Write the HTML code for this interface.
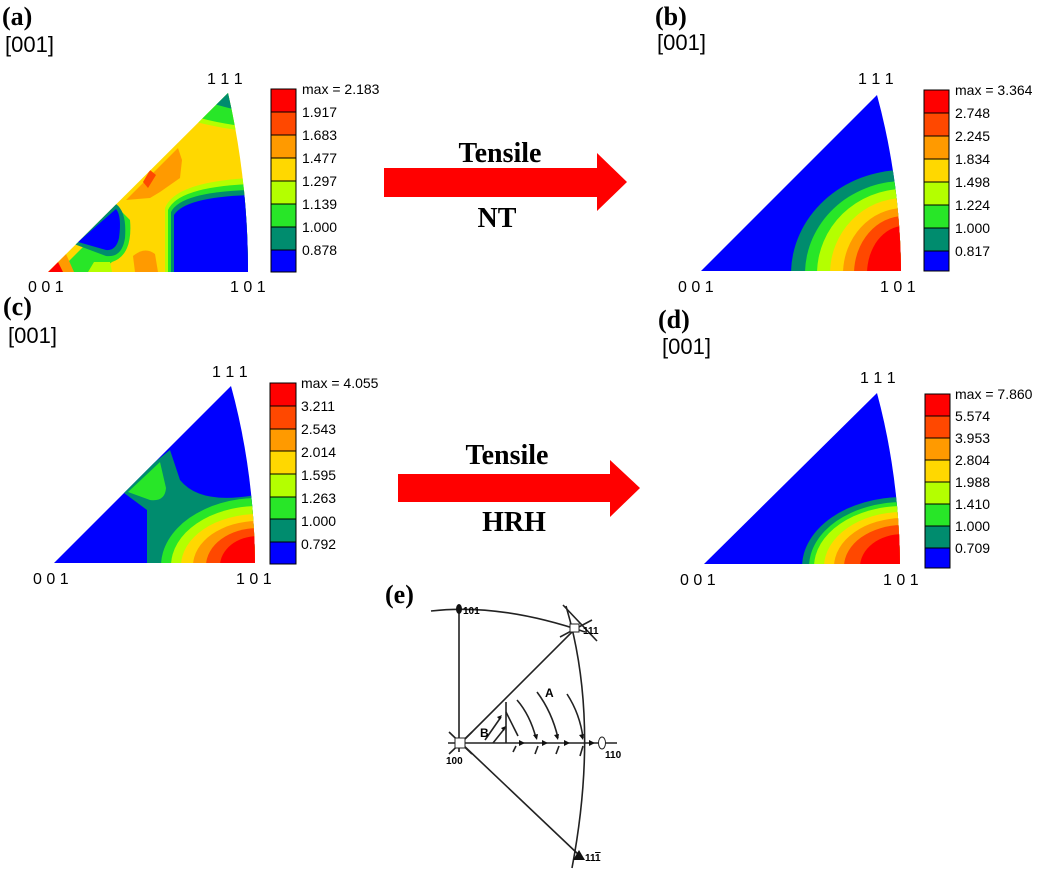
<!DOCTYPE html>
<html><head><meta charset="utf-8"><style>
body{margin:0;background:#fff;width:1042px;height:870px;overflow:hidden}
svg{display:block}
.lbl{font-family:"Liberation Serif",serif;font-weight:bold;font-size:26px}
.dir{font-family:"Liberation Sans",sans-serif;font-size:22px}
.ax{font-family:"Liberation Sans",sans-serif;font-size:16px}
.cb{font-family:"Liberation Sans",sans-serif;font-size:14px}
.big{font-family:"Liberation Serif",serif;font-weight:bold;font-size:28px}
.e{font-family:"Liberation Sans",sans-serif;font-weight:bold;font-size:10px}
</style></head><body>
<svg width="1042" height="870" viewBox="0 0 1042 870" xmlns="http://www.w3.org/2000/svg">
<defs>
<clipPath id="ca"><path d="M48,272 L228,93 Q248,180 248,272 Z"/></clipPath>
<clipPath id="cbp"><path d="M701,271 L877,95 Q900,180 901,271 Z"/></clipPath>
<clipPath id="cc"><path d="M54,563 L231,386 Q254,470 255,563 Z"/></clipPath>
<clipPath id="cd"><path d="M704,564 L877,393 Q899,475 900,564 Z"/></clipPath>
</defs>

<text class="lbl" x="2" y="25">(a)</text><text class="dir" x="5" y="52">[001]</text>
<text class="lbl" x="655" y="25">(b)</text><text class="dir" x="657" y="50">[001]</text>
<text class="lbl" x="3" y="315">(c)</text><text class="dir" x="8" y="343">[001]</text>
<text class="lbl" x="658" y="328">(d)</text><text class="dir" x="662" y="354">[001]</text>
<text class="lbl" x="385" y="603">(e)</text>

<!-- Panel a -->
<g clip-path="url(#ca)">
<rect x="40" y="85" width="220" height="200" fill="#ffd800"/>
<path d="M196,122 Q220,128 250,132 L250,85 L210,85 Z" fill="#b4ff00"/>
<path d="M200,118 Q222,124 250,127 L250,85 L212,85 Z" fill="#28e628"/>
<path d="M214,104 Q228,108 245,112 L240,85 L225,85 Z" fill="#008c6e"/>
<path d="M126,200 L178,148 L182,160 L180,178 L160,192 L150,198 Z" fill="#ff9a00"/>
<path d="M143,182 L150,170 L156,175 L148,188 Z" fill="#ff4800"/>
<path d="M135,272 L133,256 Q145,246 155,254 L158,272Z" fill="#ff9a00"/>
<path d="M165,272 L165,208 Q175,182 250,178 L250,272Z" fill="#b4ff00"/>
<path d="M168,272 L168,210 Q178,187 250,184 L250,272Z" fill="#28e628"/>
<path d="M171,272 L171,212 Q181,192 250,190 L250,272Z" fill="#008c6e"/>
<path d="M174,272 L174,215 Q185,197 250,195 L250,272Z" fill="#0000ff"/>
<path d="M58,272 L120,210 L130,220 Q133,255 112,262 L100,272Z" fill="#28e628"/>
<path d="M74,244 L116,204 Q127,212 125,238 Q122,258 106,256Z" fill="#008c6e"/>
<path d="M78,242 L116,209 Q122,216 119,238 Q116,251 106,250Z" fill="#0000ff"/>
<path d="M48,272 L66,254 L74,272Z" fill="#ff9a00"/>
<path d="M48,272 L58,262 L63,272Z" fill="#ff0000"/>
<path d="M88,272 L94,262 L110,262 L112,272Z" fill="#b4ff00"/>
</g>

<!-- Panel b -->
<g clip-path="url(#cbp)">
<rect x="690" y="85" width="220" height="200" fill="#0000ff"/>
<ellipse cx="904" cy="274" rx="113" ry="104" fill="#008c6e"/>
<ellipse cx="904" cy="274" rx="99" ry="93" fill="#28e628"/>
<ellipse cx="904" cy="274" rx="87" ry="85" fill="#b4ff00"/>
<ellipse cx="904" cy="274" rx="74" ry="76" fill="#ffd800"/>
<ellipse cx="904" cy="274" rx="61" ry="66" fill="#ff9a00"/>
<ellipse cx="904" cy="274" rx="50" ry="58" fill="#ff4800"/>
<ellipse cx="904" cy="274" rx="37" ry="48" fill="#ff0000"/>
</g>

<!-- Panel c -->
<g clip-path="url(#cc)">
<rect x="45" y="380" width="220" height="190" fill="#0000ff"/>
<path d="M120,490 L170,450 L180,480 Q200,505 255,495 L260,570 L147,570 L147,510Z" fill="#008c6e"/>
<path d="M128,492 L160,462 L166,488 Q165,502 150,500Z" fill="#28e628"/>
<ellipse cx="258" cy="566" rx="97" ry="68" fill="#28e628"/>
<ellipse cx="258" cy="566" rx="87" ry="60" fill="#b4ff00"/>
<ellipse cx="258" cy="566" rx="77" ry="52" fill="#ffd800"/>
<ellipse cx="258" cy="566" rx="65" ry="45" fill="#ff9a00"/>
<ellipse cx="258" cy="566" rx="52" ry="38" fill="#ff4800"/>
<ellipse cx="258" cy="566" rx="38" ry="30" fill="#ff0000"/>
</g>

<!-- Panel d -->
<g clip-path="url(#cd)">
<rect x="690" y="385" width="220" height="190" fill="#0000ff"/>
<ellipse cx="903" cy="567" rx="101" ry="70" fill="#008c6e"/>
<ellipse cx="903" cy="567" rx="94" ry="65" fill="#28e628"/>
<ellipse cx="903" cy="567" rx="89" ry="61" fill="#b4ff00"/>
<ellipse cx="903" cy="567" rx="79" ry="55" fill="#ffd800"/>
<ellipse cx="903" cy="567" rx="69" ry="49" fill="#ff9a00"/>
<ellipse cx="903" cy="567" rx="59" ry="42" fill="#ff4800"/>
<ellipse cx="903" cy="567" rx="43" ry="33" fill="#ff0000"/>
</g>

<text class="ax" x="207" y="84">1 1 1</text><text class="ax" x="28" y="292">0 0 1</text><text class="ax" x="230" y="292">1 0 1</text>
<text class="ax" x="858" y="84">1 1 1</text><text class="ax" x="678" y="292">0 0 1</text><text class="ax" x="880" y="292">1 0 1</text>
<text class="ax" x="212" y="377">1 1 1</text><text class="ax" x="33" y="584">0 0 1</text><text class="ax" x="236" y="584">1 0 1</text>
<text class="ax" x="860" y="383">1 1 1</text><text class="ax" x="680" y="585">0 0 1</text><text class="ax" x="883" y="585">1 0 1</text>

<g stroke="#000" stroke-width="1">
<g transform="translate(271,89)">
<rect width="25" height="23" fill="#ff0000"/><rect y="23" width="25" height="23" fill="#ff4800"/><rect y="46" width="25" height="23" fill="#ff9a00"/><rect y="69" width="25" height="23" fill="#ffd800"/><rect y="92" width="25" height="23" fill="#b4ff00"/><rect y="115" width="25" height="23" fill="#28e628"/><rect y="138" width="25" height="23" fill="#008c6e"/><rect y="161" width="25" height="22" fill="#0000ff"/>
</g>
<g transform="translate(924,90)">
<rect width="25" height="23" fill="#ff0000"/><rect y="23" width="25" height="23" fill="#ff4800"/><rect y="46" width="25" height="23" fill="#ff9a00"/><rect y="69" width="25" height="23" fill="#ffd800"/><rect y="92" width="25" height="23" fill="#b4ff00"/><rect y="115" width="25" height="23" fill="#28e628"/><rect y="138" width="25" height="23" fill="#008c6e"/><rect y="161" width="25" height="20" fill="#0000ff"/>
</g>
<g transform="translate(270,383)">
<rect width="26" height="23" fill="#ff0000"/><rect y="23" width="26" height="23" fill="#ff4800"/><rect y="46" width="26" height="22" fill="#ff9a00"/><rect y="68" width="26" height="23" fill="#ffd800"/><rect y="91" width="26" height="23" fill="#b4ff00"/><rect y="114" width="26" height="22" fill="#28e628"/><rect y="136" width="26" height="23" fill="#008c6e"/><rect y="159" width="26" height="22" fill="#0000ff"/>
</g>
<g transform="translate(925,394)">
<rect width="25" height="22" fill="#ff0000"/><rect y="22" width="25" height="22" fill="#ff4800"/><rect y="44" width="25" height="22" fill="#ff9a00"/><rect y="66" width="25" height="22" fill="#ffd800"/><rect y="88" width="25" height="22" fill="#b4ff00"/><rect y="110" width="25" height="22" fill="#28e628"/><rect y="132" width="25" height="22" fill="#008c6e"/><rect y="154" width="25" height="20" fill="#0000ff"/>
</g>
</g>
<g class="cb">
<text x="302" y="94">max = 2.183</text><text x="302" y="117">1.917</text><text x="302" y="140">1.683</text><text x="302" y="163">1.477</text><text x="302" y="186">1.297</text><text x="302" y="209">1.139</text><text x="302" y="232">1.000</text><text x="302" y="255">0.878</text>
<text x="955" y="95">max = 3.364</text><text x="955" y="118">2.748</text><text x="955" y="141">2.245</text><text x="955" y="164">1.834</text><text x="955" y="187">1.498</text><text x="955" y="210">1.224</text><text x="955" y="233">1.000</text><text x="955" y="256">0.817</text>
<text x="301" y="388">max = 4.055</text><text x="301" y="411">3.211</text><text x="301" y="434">2.543</text><text x="301" y="457">2.014</text><text x="301" y="480">1.595</text><text x="301" y="503">1.263</text><text x="301" y="526">1.000</text><text x="301" y="549">0.792</text>
<text x="955" y="399">max = 7.860</text><text x="955" y="421">5.574</text><text x="955" y="443">3.953</text><text x="955" y="465">2.804</text><text x="955" y="487">1.988</text><text x="955" y="509">1.410</text><text x="955" y="531">1.000</text><text x="955" y="553">0.709</text>
</g>

<path d="M384,168 L597,168 L597,153 L627,182 L597,211 L597,197 L384,197 Z" fill="#ff0000"/>
<text class="big" x="500" y="162" text-anchor="middle">Tensile</text>
<text class="big" x="497" y="227" text-anchor="middle">NT</text>
<path d="M398,474 L610,474 L610,460 L640,488 L610,517 L610,502 L398,502 Z" fill="#ff0000"/>
<text class="big" x="507" y="464" text-anchor="middle">Tensile</text>
<text class="big" x="514" y="531" text-anchor="middle">HRH</text>

<g stroke="#222" stroke-width="1.6" fill="none">
<path d="M431,611 Q500,603 585,632"/>
<path d="M566,606 Q600,720 572,868"/>
<line x1="563" y1="605" x2="597" y2="641"/>
<line x1="560" y1="637" x2="592" y2="620"/>
<line x1="459" y1="609" x2="459" y2="752"/>
<line x1="448" y1="743" x2="617" y2="743"/>
<line x1="461" y1="743" x2="575" y2="629"/>
<line x1="461" y1="743" x2="579" y2="855"/>
<line x1="449" y1="732" x2="472" y2="754"/>
<line x1="449" y1="754" x2="472" y2="732"/>
<line x1="506" y1="702" x2="506" y2="743"/>
<line x1="506" y1="712" x2="518" y2="736"/>
<line x1="485" y1="740" x2="501" y2="717"/>
<line x1="493" y1="743" x2="505" y2="728"/>
<path d="M517,700 Q530,715 536,738"/>
<path d="M537,692 Q552,712 558,738"/>
<path d="M567,694 Q580,714 583,738"/>
<line x1="513" y1="752" x2="516" y2="746"/>
<line x1="535" y1="754" x2="538" y2="746"/>
<line x1="556" y1="754" x2="559" y2="746"/>
<line x1="580" y1="756" x2="583" y2="746"/>
</g>
<g fill="#111">
<rect x="455" y="738" width="10" height="10" fill="#fff" stroke="#222"/>
<ellipse cx="459" cy="609" rx="3" ry="5"/>
<rect x="570" y="624" width="9" height="8" fill="#fff" stroke="#222"/>
<ellipse cx="602" cy="743" rx="3.5" ry="6" fill="#fff" stroke="#222"/>
<path d="M573,860 L579,850 L585,860Z"/>
<path d="M525,743 l-6,-3 v6Z"/><path d="M548,743 l-6,-3 v6Z"/><path d="M570,743 l-6,-3 v6Z"/><path d="M595,743 l-6,-3 v6Z"/>
<path d="M537,740 l-4,-5 l5,-1Z"/><path d="M558,740 l-4,-5 l5,-1Z"/><path d="M583,740 l-4,-5 l5,-1Z"/>
<path d="M502,715 l-5,2 l3,3Z"/><path d="M506,726 l-5,2 l3,3Z"/>
</g>
<g class="e">
<text x="463" y="614">101</text><text x="583" y="634">111</text><text x="446" y="764">100</text><text x="605" y="758">110</text><text x="585" y="861">11<tspan text-decoration="overline">1</tspan></text>
<text x="545" y="697" font-size="12">A</text><text x="480" y="737" font-size="12">B</text>
</g>
</svg>
</body></html>
